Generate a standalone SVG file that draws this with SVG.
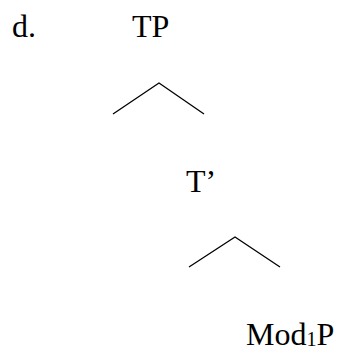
<svg xmlns="http://www.w3.org/2000/svg" width="338" height="349" viewBox="0 0 338 349">
  <style>
    .lbl { font-family: "Liberation Serif", "Times New Roman", serif; font-size: 32px; fill: #000; }
    .edge { stroke: #000; stroke-width: 1.3; fill: none; }
  </style>
  <rect width="338" height="349" fill="#fff"/>
  <text class="lbl" x="12" y="37">d.</text>
  <g id="node-TP">
    <text class="lbl" x="132" y="37">TP</text>
  </g>
  <g id="node-Tbar">
    <text class="lbl" x="186" y="192">T’</text>
  </g>
  <g id="node-Mod1P">
    <text class="lbl" x="246" y="345">Mod<tspan font-size="20" dy="1">1</tspan><tspan dy="-1">P</tspan></text>
  </g>
  <g id="connectors">
    <polyline class="edge" points="113,114 159,83 204,114"/>
    <polyline class="edge" points="189,267 235,237 280,267"/>
  </g>
</svg>
